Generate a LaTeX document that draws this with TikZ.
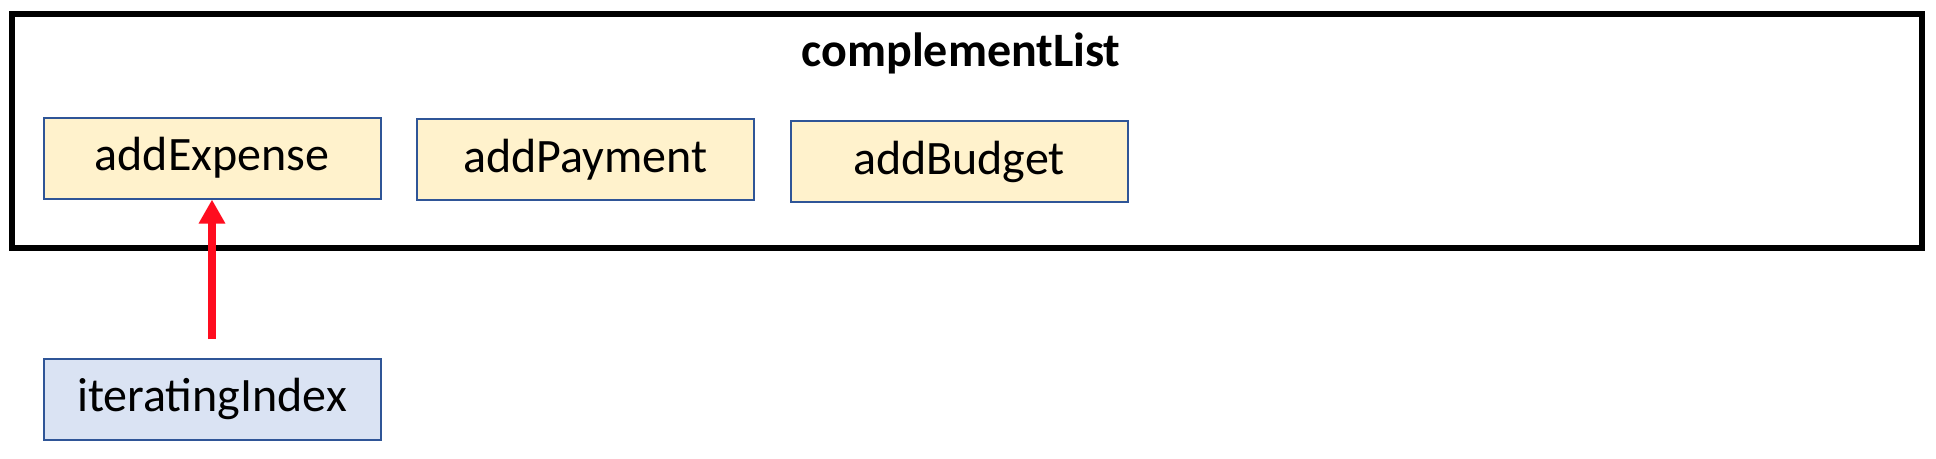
\documentclass[tikz,border=0pt]{standalone}
\usepackage{fontspec}
\setmainfont{Carlito}
\usetikzlibrary{arrows.meta}
\definecolor{boxyellow}{HTML}{FFF2CC}
\definecolor{boxblue}{HTML}{DAE3F3}
\definecolor{edgeblue}{HTML}{2F5597}
\definecolor{arrred}{HTML}{FF0D1F}
\begin{document}
\begin{tikzpicture}[x=1pt,y=-1pt,
  item/.style={draw=edgeblue,line width=2pt,fill=boxyellow,minimum width=337pt,minimum height=81pt,inner sep=0pt,font=\fontsize{48}{56}\selectfont},
  idx/.style={item,fill=boxblue},
  frame/.style={draw=black,line width=6pt}]
\useasboundingbox (0,0) rectangle (1936,458);
\node[frame,minimum width=1910pt,minimum height=234pt,inner sep=0pt,anchor=north west] (list) at (9,11) {};
\node[font=\fontsize{48}{56}\selectfont\bfseries] (title) at (961,53) {complementList};
\node[item] (exp) at (212,158) {addExpense};
\node[item] (pay) at (585.5,159.5) {addPayment};
\node[item] (bud) at (959,161.5) {addBudget};
\node[idx] (iter) at (212,399) {iteratingIndex};
\coordinate (start) at (212,339);
\draw[arrred,line width=8pt,-{Triangle[length=24pt,width=25pt]}] (start) -- (exp.south);
\end{tikzpicture}
\end{document}
